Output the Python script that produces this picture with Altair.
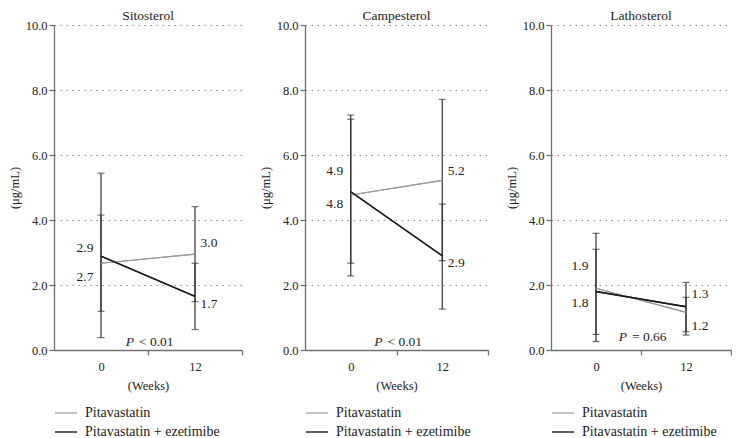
import altair as alt
import pandas as pd

sterols = ["Sitosterol", "Campesterol", "Lathosterol"]
weeks = [0, 12]
series_names = ["Pitavastatin", "Pitavastatin + ezetimibe"]

# mean and error-bar ends, per sterol, per week
pita_mean = [[2.67, 2.95], [4.77, 5.22], [1.90, 1.16]]
pita_upper = [[4.15, 4.41], [7.10, 7.71], [3.59, 1.62]]
pita_lower = [[1.19, 1.49], [2.28, 2.75], [0.26, 0.46]]
eze_mean = [[2.89, 1.65], [4.87, 2.90], [1.80, 1.33]]
eze_upper = [[5.44, 2.67], [7.23, 4.49], [3.10, 2.08]]
eze_lower = [[0.38, 0.63], [2.67, 1.26], [0.48, 0.56]]

pita_labels = [["2.7", "3.0"], ["4.8", "5.2"], ["1.9", "1.2"]]
eze_labels = [["2.9", "1.7"], ["4.9", "2.9"], ["1.8", "1.3"]]

p_text = ["< 0.01", "< 0.01", "= 0.66"]
p_level = [0.25, 0.25, 0.4]

# label pixel offsets (layout only)
pita_dy = [[14, -11], [9, -9], [-22, 14]]
eze_dy = [[-8, 8], [-21, 7], [11, -13]]
week_dx = [-16, 14]

panel_width = [188, 183, 180]
PLOT_H = 325
FONT = "'Liberation Serif', 'DejaVu Serif', serif"


def panel(i):
    lines, bars, caps = [], [], []
    text_layers = []
    for s, mean, up, lo, lab, dys in [
        (series_names[0], pita_mean, pita_upper, pita_lower, pita_labels, pita_dy),
        (series_names[1], eze_mean, eze_upper, eze_lower, eze_labels, eze_dy),
    ]:
        for j, w in enumerate(weeks):
            lines.append({"week": w, "value": mean[i][j], "series": s})
            bars.append({"week": w, "lower": lo[i][j], "upper": up[i][j], "series": s})
            caps.append({"week": w, "value": lo[i][j], "series": s})
            caps.append({"week": w, "value": up[i][j], "series": s})
            lt = pd.DataFrame({"week": [w], "value": [mean[i][j]], "label": [lab[i][j]]})
            text_layers.append(
                alt.Chart(lt).mark_text(font=FONT, fontSize=13.5, color="#222", baseline="middle",
                                        dx=week_dx[j], dy=dys[i][j]).encode(
                    x="week:Q", y="value:Q", text="label:N")
            )
    lines = pd.DataFrame(lines)
    bars = pd.DataFrame(bars)
    caps = pd.DataFrame(caps)
    ptab = pd.DataFrame({"week": [6], "value": [p_level[i]], "txt": [p_text[i]]})

    xscale = alt.Scale(domain=[-6, 18], nice=False)
    yscale = alt.Scale(domain=[0, 10], nice=False)
    xaxis = alt.Axis(
        values=[0, 6, 12, 18],
        labelExpr="datum.value == 0 || datum.value == 12 ? datum.label : ''",
        tickOpacity={"condition": {"test": "datum.value == 0 || datum.value == 12", "value": 0}, "value": 1},
        title="(Weeks)", grid=False, tickSize=5, labelPadding=5, titlePadding=7,
    )
    yaxis = alt.Axis(
        values=[0, 2, 4, 6, 8, 10], format=".1f", title="(μg/mL)",
        grid=True, gridDash=[1.5, 4.5], gridColor="#8a8a8a", tickSize=5,
        labelPadding=2, titlePadding=4,
    )

    x = alt.X("week:Q", scale=xscale, axis=xaxis)
    y = alt.Y("value:Q", scale=yscale, axis=yaxis)

    line = alt.Chart(lines).mark_line().encode(
        x=x, y=y,
        color=alt.Color("series:N", scale=alt.Scale(domain=series_names, range=["#9a9a9a", "#1a1a1a"]),
                        legend=alt.Legend(title=None, orient="none", legendX=0, legendY=376,
                                          direction="vertical", symbolType="stroke", symbolSize=484,
                                          symbolStrokeWidth=1.4, labelOffset=7, labelFont=FONT,
                                          labelFontSize=14, labelColor="#222", rowPadding=-3)),
        strokeWidth=alt.StrokeWidth("series:N", scale=alt.Scale(domain=series_names, range=[1.2, 1.4]),
                                    legend=None),
    )
    rule = alt.Chart(bars).mark_rule(color="#333", strokeWidth=1.2).encode(
        x="week:Q", y="lower:Q", y2="upper:Q"
    )
    cap = alt.Chart(caps).mark_tick(orient="horizontal", size=7, thickness=1.2, color="#333").encode(
        x="week:Q", y="value:Q"
    )
    p1 = alt.Chart(ptab).mark_text(font=FONT, fontSize=13.5, fontStyle="italic", color="#222",
                                   align="right", dx=-14, baseline="middle").encode(
        x="week:Q", y="value:Q", text=alt.value("P"))
    p2 = alt.Chart(ptab).mark_text(font=FONT, fontSize=13.5, color="#222",
                                   align="left", dx=-9, baseline="middle").encode(
        x="week:Q", y="value:Q", text="txt:N")

    return alt.layer(line, rule, cap, line, *text_layers, p1, p2).properties(
        width=panel_width[i], height=PLOT_H,
        title=alt.Title(sterols[i], font=FONT, fontSize=13.5, fontWeight="normal", color="#222", offset=-3),
    )


chart = alt.hconcat(*[panel(i) for i in range(3)], spacing=16).resolve_scale(
    color="independent", strokeWidth="independent"
).properties(
    padding={"left": 0, "top": 0, "right": 0, "bottom": 0},
    background="white",
).configure_view(stroke=None).configure_axis(
    domainColor="#707070", tickColor="#707070", domainWidth=1.3, tickWidth=1.3,
    labelFont=FONT, titleFont=FONT, labelFontSize=12.5, titleFontSize=12.5,
    labelColor="#222", titleColor="#222", titleFontWeight="normal",
)

chart.save("out.html", embed_options={"renderer": "svg", "actions": False})
